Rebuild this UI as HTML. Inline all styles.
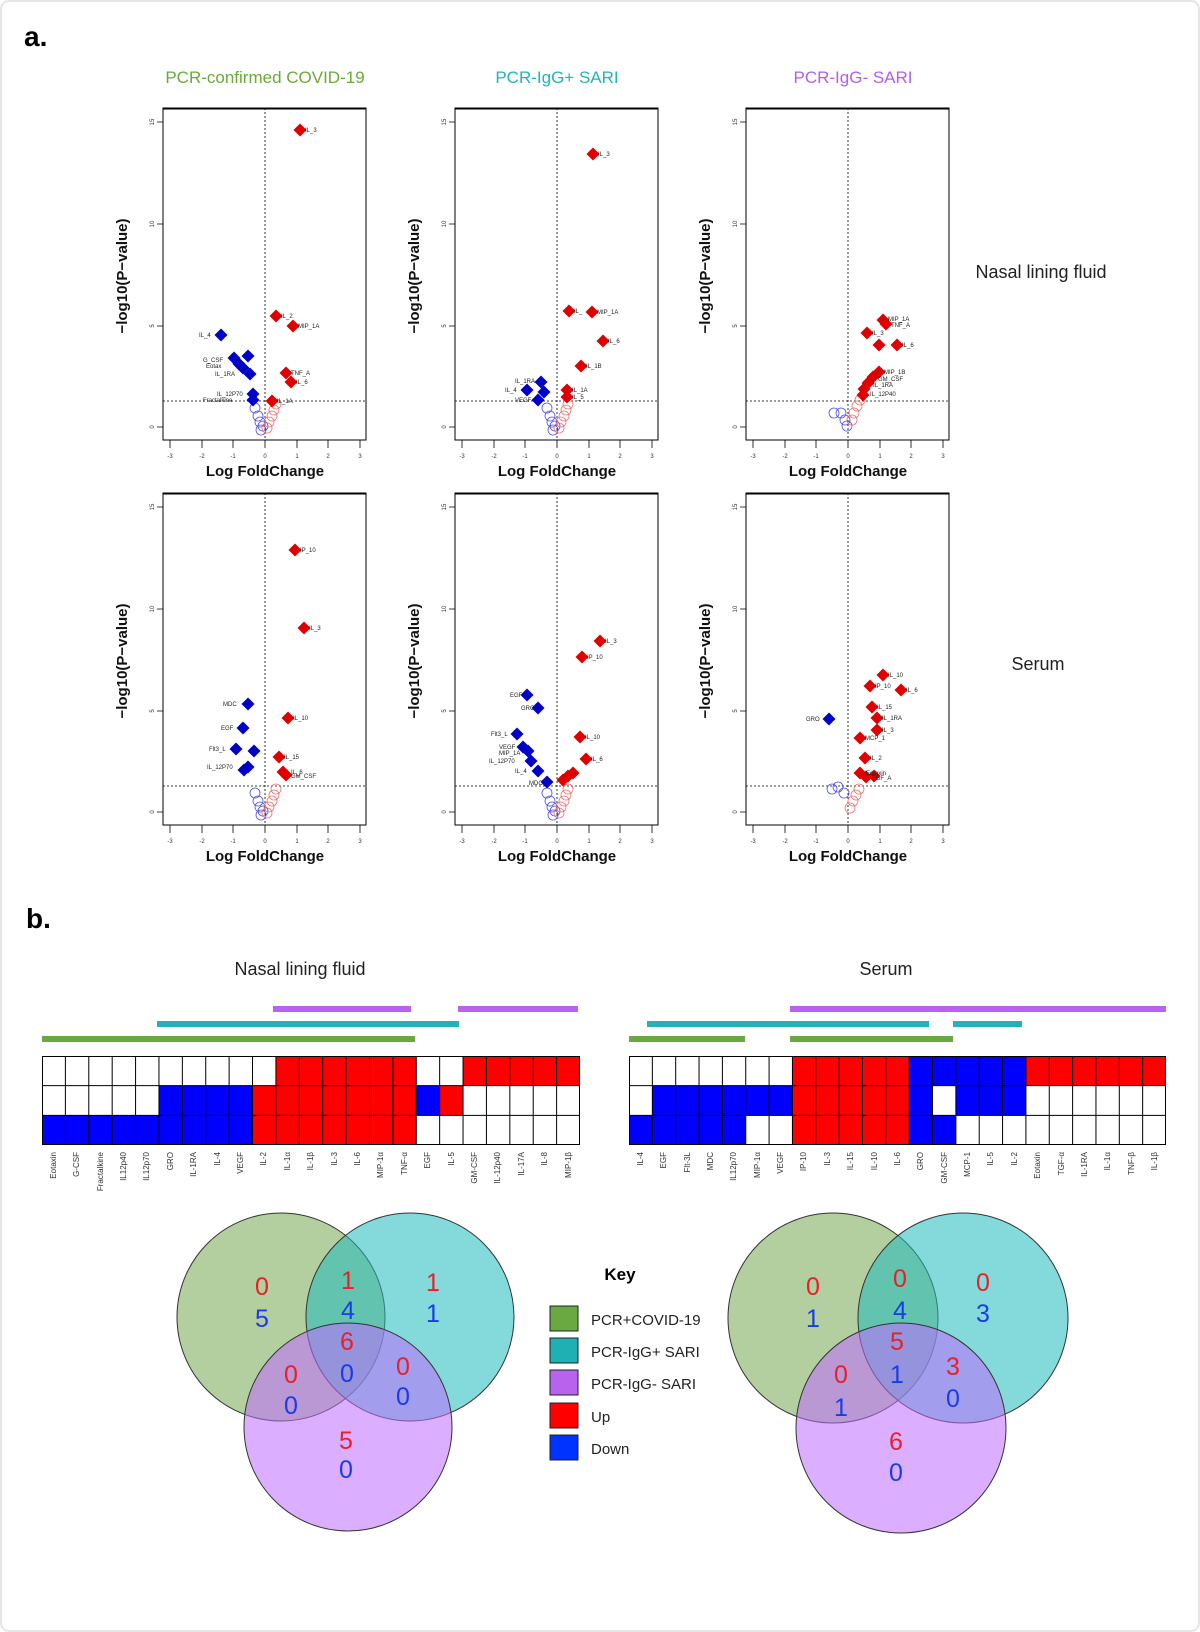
<!DOCTYPE html>
<html><head><meta charset="utf-8"><style>
html,body{margin:0;padding:0;background:#fff;}
svg{display:block;font-family:"Liberation Sans",sans-serif;}
.t{font-family:"Liberation Sans",sans-serif;}
.lbl{font-size:6px;fill:#222;}
.tk{font-size:6px;fill:#333;}
.ax{font-size:15px;fill:#111;font-weight:bold;}
.hl{font-size:8px;fill:#333;}
.vn{font-size:25px;}
</style></head><body>
<svg width="1200" height="1632" viewBox="0 0 1200 1632">
<defs>
<path id="dr" d="M0,-6.5 L6.5,0 L0,6.5 L-6.5,0Z" fill="#e00000"/>
<path id="db" d="M0,-6.5 L6.5,0 L0,6.5 L-6.5,0Z" fill="#0000c8"/>
<circle id="or" r="5" fill="none" stroke="#f07070" stroke-width="0.8"/>
<circle id="ob" r="5" fill="none" stroke="#5050e0" stroke-width="0.8"/>
<g id="axes">
<rect x="0" y="0" width="203" height="332" fill="none" stroke="#000" stroke-width="1"/>
<line x1="0" y1="0.5" x2="203" y2="0.5" stroke="#000" stroke-width="2"/>
<line x1="102" y1="0" x2="102" y2="332" stroke="#000" stroke-width="0.8" stroke-dasharray="2,2"/>
<line x1="0" y1="293" x2="203" y2="293" stroke="#000" stroke-width="0.8" stroke-dasharray="2,2"/>
<path d="M7,332v8M39,332v8M70,332v8M102,332v8M134,332v8M165,332v8M197,332v8M-6,14h6M-6,116h6M-6,218h6M-6,319h6" stroke="#000" stroke-width="0.8"/>
<g class="tk" text-anchor="middle"><text x="7" y="350">-3</text><text x="39" y="350">-2</text><text x="70" y="350">-1</text><text x="102" y="350">0</text><text x="134" y="350">1</text><text x="165" y="350">2</text><text x="197" y="350">3</text>
<text transform="translate(-9,14) rotate(-90)">15</text><text transform="translate(-9,116) rotate(-90)">10</text><text transform="translate(-9,218) rotate(-90)">5</text><text transform="translate(-9,319) rotate(-90)">0</text></g>
<text class="ax" x="102" y="368" text-anchor="middle">Log FoldChange</text>
<text class="ax" transform="translate(-36,168) rotate(-90)" text-anchor="middle">−log10(P−value)</text>
</g>
<g id="cl">
<use href="#ob" x="92" y="300"/><use href="#ob" x="95" y="308"/><use href="#ob" x="97" y="314"/><use href="#ob" x="100" y="318"/><use href="#ob" x="98" y="322"/>
<use href="#or" x="104" y="320"/><use href="#or" x="106" y="314"/><use href="#or" x="109" y="308"/><use href="#or" x="111" y="302"/><use href="#or" x="113" y="296"/>
</g>
</defs>
<rect x="1" y="1" width="1198" height="1630" rx="8" fill="#fff" stroke="#e6e6e6" stroke-width="2"/>
<text x="24" y="46" font-size="28" font-weight="bold" class="t">a.</text>
<text x="265" y="83" font-size="17" fill="#6aaa3a" text-anchor="middle">PCR-confirmed COVID-19</text>
<text x="557" y="83" font-size="17" fill="#22b5b5" text-anchor="middle">PCR-IgG+ SARI</text>
<text x="853" y="83" font-size="17" fill="#b060f0" text-anchor="middle">PCR-IgG- SARI</text>
<text x="1041" y="278" font-size="18" fill="#222" text-anchor="middle">Nasal lining fluid</text>
<text x="1038" y="670" font-size="18" fill="#222" text-anchor="middle">Serum</text>

<g transform="translate(163,108)"><use href="#axes"/><use href="#cl"/>
<use href="#dr" x="137" y="22"/><use href="#dr" x="113" y="208"/><use href="#dr" x="130" y="218"/><use href="#dr" x="123" y="265"/><use href="#dr" x="128" y="274"/><use href="#dr" x="109" y="293"/>
<use href="#db" x="58" y="227"/><use href="#db" x="71" y="250"/><use href="#db" x="76" y="256"/><use href="#db" x="80" y="260"/><use href="#db" x="85" y="248"/><use href="#db" x="87" y="266"/><use href="#db" x="90" y="286"/><use href="#db" x="90" y="292"/>
<g class="lbl"><text x="142" y="24">IL_3</text><text x="118" y="210">IL_2</text><text x="135" y="220">MIP_1A</text><text x="128" y="267">TNF_A</text><text x="133" y="276">IL_6</text><text x="114" y="295">IL_1A</text><text x="36" y="229">IL_4</text><text x="40" y="254">G_CSF</text><text x="43" y="260">Eotax</text><text x="52" y="268">IL_1RA</text><text x="54" y="288">IL_12P70</text><text x="40" y="294">Fractalkine</text></g></g>
<g transform="translate(455,108)"><use href="#axes"/><use href="#cl"/>
<use href="#dr" x="138" y="46"/><use href="#dr" x="114" y="203"/><use href="#dr" x="137" y="204"/><use href="#dr" x="148" y="233"/><use href="#dr" x="126" y="258"/><use href="#dr" x="112" y="282"/><use href="#dr" x="112" y="289"/>
<use href="#db" x="86" y="274"/><use href="#db" x="72" y="282"/><use href="#db" x="89" y="284"/><use href="#db" x="83" y="292"/>
<g class="lbl"><text x="143" y="48">IL_3</text><text x="119" y="205">IL_</text><text x="142" y="206">MIP_1A</text><text x="153" y="235">IL_6</text><text x="131" y="260">IL_1B</text><text x="117" y="284">IL_1A</text><text x="117" y="291">IL_5</text><text x="60" y="275">IL_1RA</text><text x="50" y="284">IL_4</text><text x="60" y="294">VEGF</text></g></g>
<g transform="translate(746,108)"><use href="#axes"/>
<use href="#ob" x="88" y="305"/><use href="#ob" x="95" y="305"/><use href="#ob" x="99" y="312"/><use href="#ob" x="101" y="318"/><use href="#or" x="106" y="312"/><use href="#or" x="108" y="305"/><use href="#or" x="111" y="298"/><use href="#or" x="114" y="292"/>
<use href="#dr" x="137" y="212"/><use href="#dr" x="140" y="216"/><use href="#dr" x="121" y="225"/><use href="#dr" x="133" y="237"/><use href="#dr" x="151" y="237"/><use href="#dr" x="133" y="264"/><use href="#dr" x="127" y="269"/><use href="#dr" x="122" y="275"/><use href="#dr" x="118" y="281"/><use href="#dr" x="117" y="287"/>
<g class="lbl"><text x="142" y="213">MIP_1A</text><text x="145" y="219">TNF_A</text><text x="126" y="227">IL_3</text><text x="156" y="239">IL_6</text><text x="138" y="266">MIP_1B</text><text x="132" y="273">GM_CSF</text><text x="127" y="279">IL_1RA</text><text x="124" y="288">IL_12P40</text></g></g>

<g transform="translate(163,493)"><use href="#axes"/><use href="#cl"/>
<use href="#dr" x="132" y="57"/><use href="#dr" x="141" y="135"/><use href="#dr" x="125" y="225"/><use href="#dr" x="116" y="264"/><use href="#dr" x="120" y="279"/><use href="#dr" x="123" y="282"/>
<use href="#db" x="85" y="211"/><use href="#db" x="80" y="235"/><use href="#db" x="73" y="256"/><use href="#db" x="91" y="258"/><use href="#db" x="85" y="274"/><use href="#db" x="81" y="277"/>
<g class="lbl"><text x="137" y="59">IP_10</text><text x="146" y="137">IL_3</text><text x="130" y="227">IL_10</text><text x="121" y="266">IL_15</text><text x="128" y="281">IL_6</text><text x="128" y="285">GM_CSF</text><text x="60" y="213">MDC</text><text x="58" y="237">EGF</text><text x="46" y="258">Flt3_L</text><text x="44" y="276">IL_12P70</text></g></g>
<g transform="translate(455,493)"><use href="#axes"/><use href="#cl"/>
<use href="#dr" x="145" y="148"/><use href="#dr" x="127" y="164"/><use href="#dr" x="125" y="244"/><use href="#dr" x="131" y="266"/><use href="#dr" x="113" y="283"/><use href="#dr" x="118" y="280"/><use href="#dr" x="108" y="287"/>
<use href="#db" x="72" y="202"/><use href="#db" x="83" y="215"/><use href="#db" x="62" y="241"/><use href="#db" x="68" y="254"/><use href="#db" x="73" y="258"/><use href="#db" x="76" y="268"/><use href="#db" x="83" y="278"/><use href="#db" x="92" y="289"/>
<g class="lbl"><text x="150" y="150">IL_3</text><text x="132" y="166">IP_10</text><text x="130" y="246">IL_10</text><text x="136" y="268">IL_6</text><text x="55" y="204">EGF</text><text x="66" y="217">GRO</text><text x="36" y="243">Flt3_L</text><text x="44" y="256">VEGF</text><text x="44" y="262">MIP_1A</text><text x="34" y="270">IL_12P70</text><text x="60" y="280">IL_4</text><text x="74" y="292">MDC</text></g></g>
<g transform="translate(746,493)"><use href="#axes"/>
<use href="#ob" x="86" y="296"/><use href="#ob" x="92" y="294"/><use href="#ob" x="98" y="300"/><use href="#or" x="104" y="315"/><use href="#or" x="107" y="308"/><use href="#or" x="110" y="302"/><use href="#or" x="113" y="296"/>
<use href="#dr" x="137" y="182"/><use href="#dr" x="124" y="193"/><use href="#dr" x="155" y="197"/><use href="#dr" x="126" y="214"/><use href="#dr" x="131" y="225"/><use href="#dr" x="131" y="237"/><use href="#dr" x="114" y="245"/><use href="#dr" x="119" y="265"/><use href="#dr" x="114" y="280"/><use href="#dr" x="120" y="284"/><use href="#dr" x="128" y="283"/>
<use href="#db" x="83" y="226"/>
<g class="lbl"><text x="142" y="184">IL_10</text><text x="129" y="195">IP_10</text><text x="160" y="199">IL_6</text><text x="131" y="216">IL_15</text><text x="136" y="227">IL_1RA</text><text x="136" y="239">IL_3</text><text x="119" y="247">MCP_1</text><text x="124" y="267">IL_2</text><text x="120" y="282">Eotaxin</text><text x="126" y="287">TGF_A</text><text x="60" y="228">GRO</text></g></g>

<text x="26" y="928" font-size="28" font-weight="bold" class="t">b.</text>
<text x="300" y="975" font-size="18" fill="#222" text-anchor="middle">Nasal lining fluid</text>
<text x="886" y="975" font-size="18" fill="#222" text-anchor="middle">Serum</text>
<g stroke-width="6">
<line x1="273" y1="1009" x2="411" y2="1009" stroke="#b862ee"/><line x1="458" y1="1009" x2="578" y2="1009" stroke="#b862ee"/>
<line x1="157" y1="1024" x2="459" y2="1024" stroke="#22b2b8"/>
<line x1="42" y1="1039" x2="415" y2="1039" stroke="#6aa842"/>
<line x1="790" y1="1009" x2="1166" y2="1009" stroke="#b862ee"/>
<line x1="647" y1="1024" x2="929" y2="1024" stroke="#22b2b8"/><line x1="953" y1="1024" x2="1022" y2="1024" stroke="#22b2b8"/>
<line x1="629" y1="1039" x2="745" y2="1039" stroke="#6aa842"/><line x1="790" y1="1039" x2="953" y2="1039" stroke="#6aa842"/>
</g>
<svg x="42" y="1056" width="538" height="89" viewBox="0 0 23 3" preserveAspectRatio="none">
<rect width="23" height="3" fill="#fff"/>
<g fill="#ff0000"><rect x="10" y="0" width="6" height="1"/><rect x="18" y="0" width="5" height="1"/><rect x="9" y="1" width="7" height="2"/><rect x="17" y="1" width="1" height="1"/></g>
<g fill="#0000ff"><rect x="5" y="1" width="4" height="1"/><rect x="16" y="1" width="1" height="1"/><rect x="0" y="2" width="9" height="1"/></g>
<path d="M1,0V3M2,0V3M3,0V3M4,0V3M5,0V3M6,0V3M7,0V3M8,0V3M9,0V3M10,0V3M11,0V3M12,0V3M13,0V3M14,0V3M15,0V3M16,0V3M17,0V3M18,0V3M19,0V3M20,0V3M21,0V3M22,0V3M0,1H23M0,2H23" stroke="#000" stroke-width="1" vector-effect="non-scaling-stroke" fill="none"/>
<rect width="23" height="3" fill="none" stroke="#000" stroke-width="2" vector-effect="non-scaling-stroke"/>
</svg>
<svg x="629" y="1056" width="537" height="89" viewBox="0 0 23 3" preserveAspectRatio="none">
<rect width="23" height="3" fill="#fff"/>
<g fill="#ff0000"><rect x="7" y="0" width="5" height="3"/><rect x="17" y="0" width="6" height="1"/></g>
<g fill="#0000ff"><rect x="12" y="0" width="5" height="1"/><rect x="1" y="1" width="6" height="1"/><rect x="12" y="1" width="1" height="1"/><rect x="14" y="1" width="3" height="1"/><rect x="0" y="2" width="5" height="1"/><rect x="12" y="2" width="2" height="1"/></g>
<path d="M1,0V3M2,0V3M3,0V3M4,0V3M5,0V3M6,0V3M7,0V3M8,0V3M9,0V3M10,0V3M11,0V3M12,0V3M13,0V3M14,0V3M15,0V3M16,0V3M17,0V3M18,0V3M19,0V3M20,0V3M21,0V3M22,0V3M0,1H23M0,2H23" stroke="#000" stroke-width="1" vector-effect="non-scaling-stroke" fill="none"/>
<rect width="23" height="3" fill="none" stroke="#000" stroke-width="2" vector-effect="non-scaling-stroke"/>
</svg>
<g class="hl" text-anchor="end">
<text transform="translate(56,1152) rotate(-90)">Eotaxin</text><text transform="translate(79,1152) rotate(-90)">G-CSF</text><text transform="translate(103,1152) rotate(-90)">Fractalkine</text><text transform="translate(126,1152) rotate(-90)">IL12p40</text><text transform="translate(149,1152) rotate(-90)">IL12p70</text><text transform="translate(173,1152) rotate(-90)">GRO</text><text transform="translate(196,1152) rotate(-90)">IL-1RA</text><text transform="translate(220,1152) rotate(-90)">IL-4</text><text transform="translate(243,1152) rotate(-90)">VEGF</text><text transform="translate(266,1152) rotate(-90)">IL-2</text><text transform="translate(290,1152) rotate(-90)">IL-1α</text><text transform="translate(313,1152) rotate(-90)">IL-1β</text><text transform="translate(337,1152) rotate(-90)">IL-3</text><text transform="translate(360,1152) rotate(-90)">IL-6</text><text transform="translate(383,1152) rotate(-90)">MIP-1α</text><text transform="translate(407,1152) rotate(-90)">TNF-α</text><text transform="translate(430,1152) rotate(-90)">EGF</text><text transform="translate(454,1152) rotate(-90)">IL-5</text><text transform="translate(477,1152) rotate(-90)">GM-CSF</text><text transform="translate(500,1152) rotate(-90)">IL-12p40</text><text transform="translate(524,1152) rotate(-90)">IL-17A</text><text transform="translate(547,1152) rotate(-90)">IL-8</text><text transform="translate(571,1152) rotate(-90)">MIP-1β</text>
<text transform="translate(643,1152) rotate(-90)">IL-4</text><text transform="translate(666,1152) rotate(-90)">EGF</text><text transform="translate(690,1152) rotate(-90)">Flt-3L</text><text transform="translate(713,1152) rotate(-90)">MDC</text><text transform="translate(736,1152) rotate(-90)">IL12p70</text><text transform="translate(760,1152) rotate(-90)">MIP-1α</text><text transform="translate(783,1152) rotate(-90)">VEGF</text><text transform="translate(806,1152) rotate(-90)">IP-10</text><text transform="translate(830,1152) rotate(-90)">IL-3</text><text transform="translate(853,1152) rotate(-90)">IL-15</text><text transform="translate(877,1152) rotate(-90)">IL-10</text><text transform="translate(900,1152) rotate(-90)">IL-6</text><text transform="translate(923,1152) rotate(-90)">GRO</text><text transform="translate(947,1152) rotate(-90)">GM-CSF</text><text transform="translate(970,1152) rotate(-90)">MCP-1</text><text transform="translate(993,1152) rotate(-90)">IL-5</text><text transform="translate(1017,1152) rotate(-90)">IL-2</text><text transform="translate(1040,1152) rotate(-90)">Eotaxin</text><text transform="translate(1064,1152) rotate(-90)">TGF-α</text><text transform="translate(1087,1152) rotate(-90)">IL-1RA</text><text transform="translate(1110,1152) rotate(-90)">IL-1α</text><text transform="translate(1134,1152) rotate(-90)">TNF-β</text><text transform="translate(1157,1152) rotate(-90)">IL-1β</text>
</g>

<g stroke="#333" stroke-width="1">
<circle cx="281" cy="1317" r="104" fill="#6a9f3f" fill-opacity="0.5"/>
<circle cx="410" cy="1317" r="104" fill="#1fbcbc" fill-opacity="0.55"/>
<circle cx="348" cy="1427" r="104" fill="#bd6cff" fill-opacity="0.55"/>
<circle cx="833" cy="1318" r="105" fill="#6a9f3f" fill-opacity="0.5"/>
<circle cx="963" cy="1318" r="105" fill="#1fbcbc" fill-opacity="0.55"/>
<circle cx="901" cy="1428" r="105" fill="#bd6cff" fill-opacity="0.55"/>
</g>
<g class="vn" text-anchor="middle">
<g fill="#e8202a"><text x="262" y="1295">0</text><text x="348" y="1289">1</text><text x="433" y="1291">1</text><text x="347" y="1350">6</text><text x="291" y="1383">0</text><text x="403" y="1375">0</text><text x="346" y="1449">5</text>
<text x="813" y="1295">0</text><text x="900" y="1287">0</text><text x="983" y="1291">0</text><text x="897" y="1350">5</text><text x="841" y="1383">0</text><text x="953" y="1375">3</text><text x="896" y="1450">6</text></g>
<g fill="#1a3ce8"><text x="262" y="1327">5</text><text x="348" y="1319">4</text><text x="433" y="1322">1</text><text x="347" y="1382">0</text><text x="291" y="1414">0</text><text x="403" y="1405">0</text><text x="346" y="1478">0</text>
<text x="813" y="1327">1</text><text x="900" y="1319">4</text><text x="983" y="1322">3</text><text x="897" y="1383">1</text><text x="841" y="1416">1</text><text x="953" y="1407">0</text><text x="896" y="1481">0</text></g>
</g>
<text x="620" y="1280" font-size="17" font-weight="bold" text-anchor="middle">Key</text>
<g stroke="#222" stroke-width="1">
<rect x="550" y="1306" width="28" height="25" fill="#6aa842"/>
<rect x="550" y="1338" width="28" height="25" fill="#1fb0b4"/>
<rect x="550" y="1370" width="28" height="25" fill="#b862ee"/>
<rect x="550" y="1403" width="28" height="25" fill="#ff0000"/>
<rect x="550" y="1435" width="28" height="25" fill="#0033ff"/>
</g>
<g font-size="15" fill="#222">
<text x="591" y="1325">PCR+COVID-19</text><text x="591" y="1357">PCR-IgG+ SARI</text><text x="591" y="1389">PCR-IgG- SARI</text><text x="591" y="1422">Up</text><text x="591" y="1454">Down</text>
</g>
</svg>
</body></html>
